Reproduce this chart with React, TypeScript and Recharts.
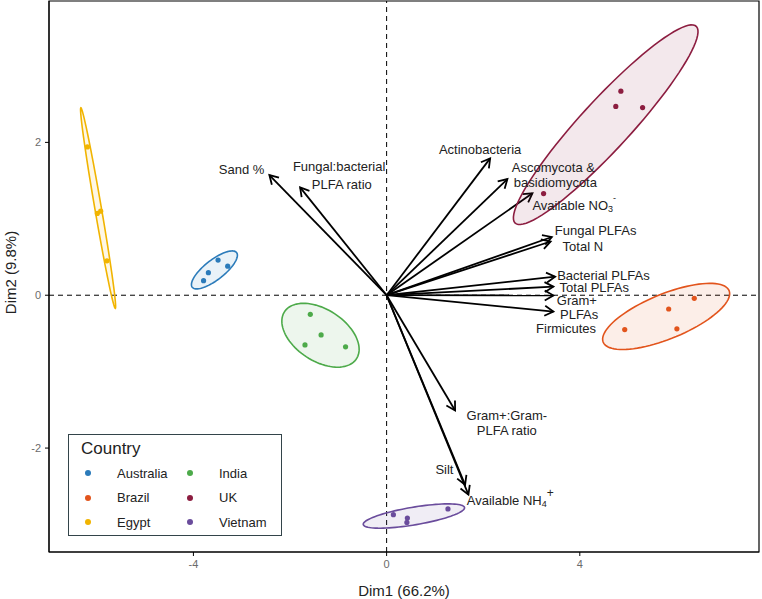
import React from "react";
import {
  ScatterChart, Scatter, XAxis, YAxis, ReferenceLine, ReferenceArea, ReferenceDot,
} from "recharts";

const FONT = "'Liberation Sans', Arial, sans-serif";

// PCA individuals, grouped by country
const countries = ["Australia", "Brazil", "Egypt", "India", "UK", "Vietnam"];
const countryColors = ["#2B7BBA", "#E2541C", "#F1B400", "#4DAA4A", "#8C1D40", "#6A4C9C"];

const australiaDim1 = [-3.49, -3.29, -3.69, -3.79];
const australiaDim2 = [0.46, 0.38, 0.295, 0.19];
const brazilDim1 = [6.37, 5.84, 6.01, 4.93];
const brazilDim2 = [-0.04, -0.18, -0.44, -0.45];
const egyptDim1 = [-6.195, -5.99, -5.92, -5.79];
const egyptDim2 = [1.94, 1.07, 1.1, 0.45];
const indiaDim1 = [-1.58, -1.356, -1.69, -0.85];
const indiaDim2 = [-0.25, -0.52, -0.65, -0.675];
const ukDim1 = [4.85, 4.745, 5.3, 3.25];
const ukDim2 = [2.67, 2.47, 2.455, 1.33];
const vietnamDim1 = [0.14, 0.43, 0.42, 1.27];
const vietnamDim2 = [-2.872, -2.915, -2.973, -2.797];

const dim1ByCountry = [australiaDim1, brazilDim1, egyptDim1, indiaDim1, ukDim1, vietnamDim1];
const dim2ByCountry = [australiaDim2, brazilDim2, egyptDim2, indiaDim2, ukDim2, vietnamDim2];

// variable loadings (arrows)
const variables = [
  "Sand %", "Fungal:bacterial PLFA ratio", "Actinobacteria", "Ascomycota & basidiomycota",
  "Available NO3-", "Fungal PLFAs", "Total N", "Bacterial PLFAs", "Total PLFAs",
  "Gram+ PLFAs", "Firmicutes", "Gram+:Gram- PLFA ratio", "Silt", "Available NH4+",
];
const loadDim1 = [-2.427, -1.791, 2.143, 2.501, 3.019, 3.42, 3.395, 3.489, 3.453, 3.453, 3.453, 1.418, 1.625, 1.694];
const loadDim2 = [1.573, 1.412, 1.791, 1.52, 1.333, 0.762, 0.703, 0.243, 0.112, -0.003, -0.214, -1.508, -2.48, -2.61];

// arrow labels, one entry per text line ("_" subscript, "^" superscript)
const labelText = [
  "Sand %", "Fungal:bacterial", "PLFA ratio", "Actinobacteria", "Ascomycota &", "basidiomycota",
  "Available NO_3^-", "Fungal PLFAs", "Total N", "Bacterial PLFAs", "Total PLFAs", "Gram+",
  "PLFAs", "Firmicutes", "Gram+:Gram-", "PLFA ratio", "Silt", "Available NH_4^+",
];
const labelDim1 = [-3.002, -0.983, -0.928, 1.936, 3.453, 3.495, 3.019, 4.327, 4.062, 4.489, 4.3, 3.938, 3.986, 3.716, 2.489, 2.489, 1.197, 1.66];
const labelDim2 = [1.651, 1.686, 1.455, 1.912, 1.668, 1.472, 1.18, 0.841, 0.635, 0.252, 0.095, -0.075, -0.258, -0.431, -1.578, -1.77, -2.284, -2.685];
const labelAnchor = ["middle", "middle", "middle", "middle", "middle", "middle", "start", "middle", "middle", "middle", "middle", "middle", "middle", "middle", "middle", "middle", "middle", "start"];

const xTicks = [-4, 0, 4];
const yTicks = [-2, 0, 2];
const xDomain = [-6.99, 7.71];
const yDomain = [-3.36, 3.85];

// 90% normal ellipse built from the group covariance
function ellipse(xs: number[], ys: number[], level = 0.9, steps = 90) {
  const n = xs.length;
  const mx = xs.reduce((a, b) => a + b, 0) / n;
  const my = ys.reduce((a, b) => a + b, 0) / n;
  let sxx = 0, syy = 0, sxy = 0;
  for (let i = 0; i < n; i++) {
    sxx += (xs[i] - mx) ** 2;
    syy += (ys[i] - my) ** 2;
    sxy += (xs[i] - mx) * (ys[i] - my);
  }
  sxx /= n - 1; syy /= n - 1; sxy /= n - 1;
  const tr = sxx + syy, det = sxx * syy - sxy * sxy;
  const d = Math.sqrt(Math.max(tr * tr / 4 - det, 0));
  const l1 = tr / 2 + d, l2 = Math.max(tr / 2 - d, 0);
  const th = Math.atan2(l1 - sxx, sxy);
  const r = Math.sqrt(-2 * Math.log(1 - level));
  const pts = [];
  for (let k = 0; k <= steps; k++) {
    const t = (2 * Math.PI * k) / steps;
    const u = r * Math.sqrt(l1) * Math.cos(t);
    const v = r * Math.sqrt(l2) * Math.sin(t);
    pts.push({ x: mx + u * Math.cos(th) - v * Math.sin(th), y: my + u * Math.sin(th) + v * Math.cos(th) });
  }
  return pts;
}

const noDot = () => <g />;

function Arrow(p: any) {
  const { x1, y1, x2, y2 } = p;
  const a = Math.atan2(y2 - y1, x2 - x1);
  const len = 10, spread = Math.PI / 6;
  const ax = x2 - len * Math.cos(a - spread), ay = y2 - len * Math.sin(a - spread);
  const bx = x2 - len * Math.cos(a + spread), by = y2 - len * Math.sin(a + spread);
  return (
    <g>
      <line x1={x1} y1={y1} x2={x2} y2={y2} stroke="#000" strokeWidth={1.8} />
      <path d={`M${ax},${ay}L${x2},${y2}L${bx},${by}`} fill="none" stroke="#000" strokeWidth={1.8} strokeLinejoin="miter" />
    </g>
  );
}

function richText(s: string) {
  const m = s.match(/^(.*)_(.)\^(.)$/);
  if (!m) return s;
  return [
    <tspan key="a">{m[1]}</tspan>,
    <tspan key="b" dy={4} fontSize={9}>{m[2]}</tspan>,
    <tspan key="c" dy={-11} fontSize={m[3] === "+" ? 12 : 9}>{m[3]}</tspan>,
  ];
}

function makeLabel(text: string, anchor: string) {
  return (p: any) => (
    <text x={p.cx} y={p.cy} textAnchor={anchor} dominantBaseline="central"
      fontFamily={FONT} fontSize={13} fill="#222">
      {richText(text)}
    </text>
  );
}

const axisTick = { fill: "#6b6b6b", fontSize: 11, fontFamily: FONT };

export default function App() {
  return (
    <div style={{ position: "absolute", left: 0, top: 0, width: 762, height: 599, background: "#fff" }}>
      <ScatterChart width={762} height={599} margin={{ top: 1, right: 3, bottom: 0, left: 0 }}>
        <XAxis type="number" dataKey="x" domain={xDomain} ticks={xTicks} allowDataOverflow
          height={47} tick={axisTick} tickSize={4} tickMargin={4}
          axisLine={{ stroke: "#000" }} tickLine={{ stroke: "#000" }}
          label={{ value: "Dim1 (66.2%)", position: "insideBottom", offset: 3, fontSize: 15, fill: "#222", fontFamily: FONT }} />
        <YAxis type="number" dataKey="y" domain={yDomain} ticks={yTicks} allowDataOverflow
          width={49} tick={axisTick} tickSize={4} tickMargin={4}
          axisLine={{ stroke: "#000" }} tickLine={{ stroke: "#000" }}
          label={{
            content: (lp: any) => {
              const vb = lp.viewBox;
              const cx = vb.x + 10, cy = vb.y + vb.height / 2 - 4;
              return (
                <text x={cx} y={cy} transform={`rotate(-90 ${cx} ${cy})`} textAnchor="middle"
                  dominantBaseline="central" fontSize={15} fill="#222" fontFamily={FONT}>Dim2 (9.8%)</text>
              );
            },
          }} />
        <ReferenceArea x1={xDomain[0]} x2={xDomain[1]} y1={yDomain[0]} y2={yDomain[1]}
          fill="none" stroke="#000" strokeWidth={1.2} ifOverflow="visible" />
        <ReferenceLine x={0} stroke="#000" strokeDasharray="5 4" strokeWidth={1} />
        <ReferenceLine y={0} stroke="#000" strokeDasharray="5 4" strokeWidth={1} />

        {countries.map((c, i) => (
          <Scatter key={`ell-${c}`} data={ellipse(dim1ByCountry[i], dim2ByCountry[i])} shape={noDot}
            isAnimationActive={false} legendType="none" lineType="joint"
            line={(lp: any) => (
              <path d={lp.points.map((q: any, k: number) => `${k ? "L" : "M"}${q.x},${q.y}`).join("") + "Z"}
                fill={countryColors[i]} fillOpacity={0.1} stroke={countryColors[i]} strokeWidth={1.6} />
            )} />
        ))}

        {countries.map((c, i) => (
          <Scatter key={`pts-${c}`} name={c}
            data={dim1ByCountry[i].map((x, k) => ({ x, y: dim2ByCountry[i][k] }))}
            isAnimationActive={false} fill={countryColors[i]}
            shape={(p: any) => <circle cx={p.cx} cy={p.cy} r={2.6} fill={countryColors[i]} />} />
        ))}

        {variables.map((v, i) => (
          <ReferenceLine key={`arr-${v}`} segment={[{ x: 0, y: 0 }, { x: loadDim1[i], y: loadDim2[i] }]}
            ifOverflow="visible" shape={Arrow} />
        ))}

        {labelText.map((t, i) => (
          <ReferenceDot key={`lab-${i}`} x={labelDim1[i]} y={labelDim2[i]} r={0} ifOverflow="visible"
            shape={makeLabel(t, labelAnchor[i])} />
        ))}
      </ScatterChart>

      <div style={{
        position: "absolute", left: 68, top: 434, width: 212, height: 100,
        border: "1.5px solid #33444a", background: "#fff", fontFamily: FONT,
      }}>
        <div style={{ position: "absolute", left: 12, top: 4, fontSize: 17, color: "#222" }}>Country</div>
        {countries.map((c, i) => {
          const col = Math.floor(i / 3), row = i % 3;
          return (
            <div key={c} style={{ position: "absolute", left: 16 + col * 102, top: 29 + row * 24.7, height: 18, display: "flex", alignItems: "center" }}>
              <span style={{ width: 6, height: 6, borderRadius: 3, background: countryColors[i], display: "inline-block" }} />
              <span style={{ marginLeft: 26, fontSize: 13, color: "#222" }}>{c}</span>
            </div>
          );
        })}
      </div>
    </div>
  );
}
